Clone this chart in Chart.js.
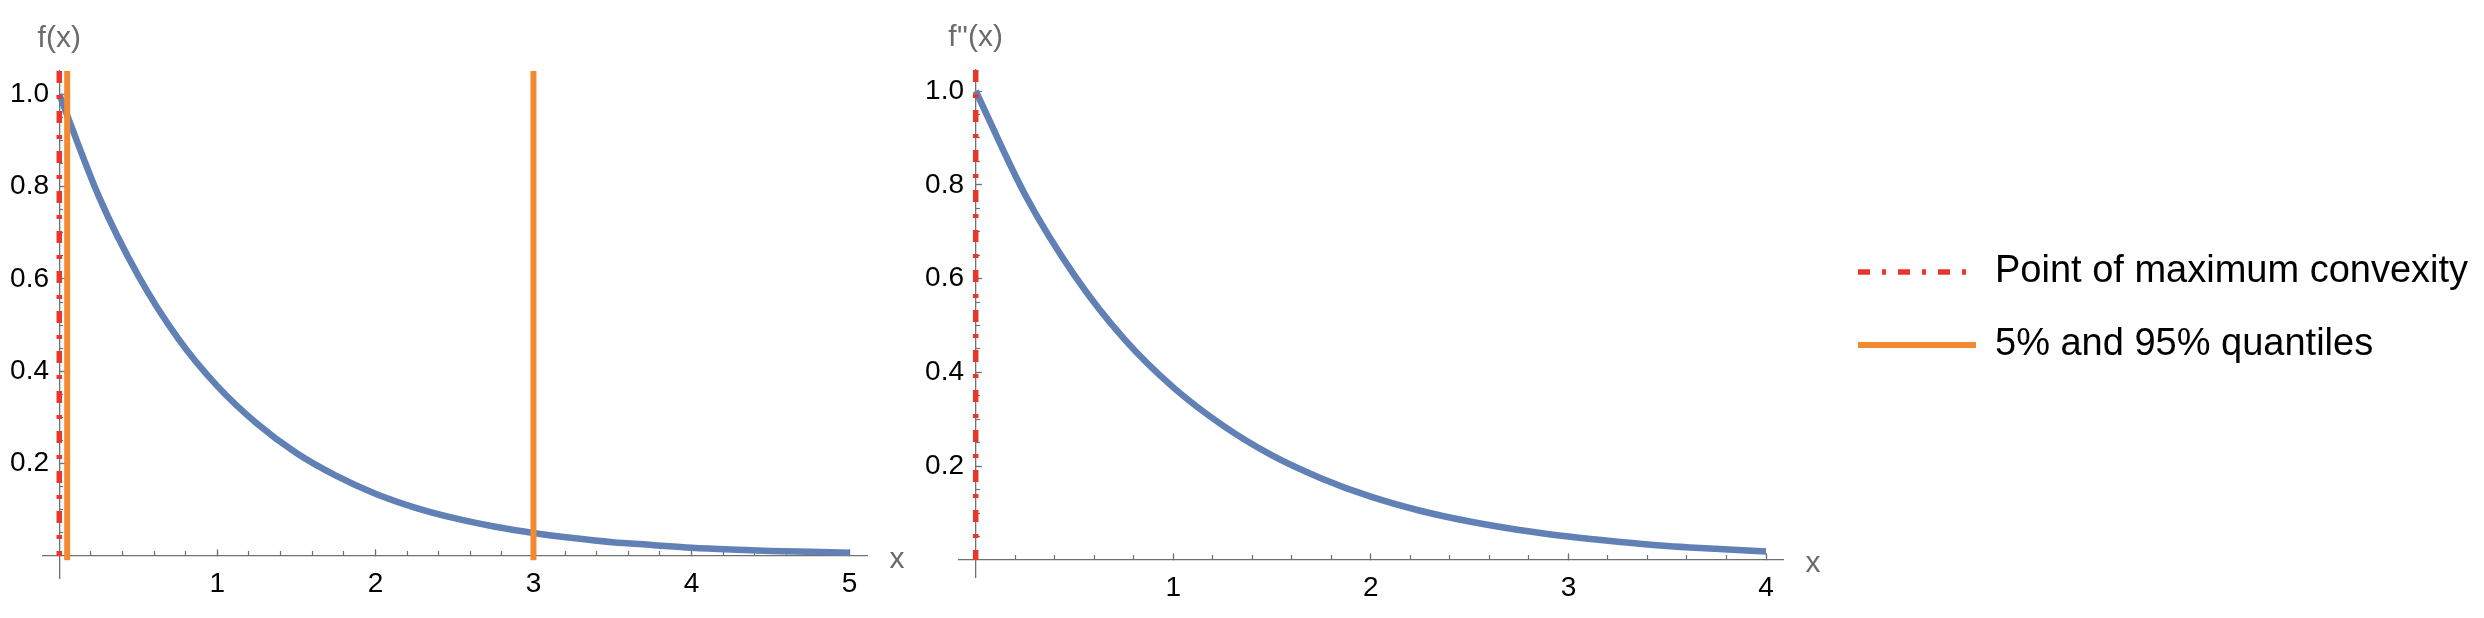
<!DOCTYPE html>
<html lang="en">

<head>
    <meta charset="UTF-8">
    <title>f(x) and f''(x)</title>
    <style>
        body {
            margin: 0;
            background: #fff;
        }

        .page {
            position: relative;
            width: 2484px;
            height: 618px;
            overflow: hidden;
            background: #fff;
        }

        .panel {
            position: absolute;
        }
    </style>
</head>

<body>
    <div class="page">
        <div class="panel" style="left:0px;top:0px;width:910px;height:618px;"><canvas id="chartLeft"></canvas></div>
        <div class="panel" style="left:910px;top:0px;width:920px;height:618px;"><canvas id="chartRight"></canvas></div>
        <div class="panel" style="left:1823px;top:218px;width:661px;height:400px;"><canvas id="chartLegend"></canvas></div>
    </div>
    <script src="https://cdn.jsdelivr.net/npm/chart.js"></script>
    <script>
        // curve values
        var xLeft = [0, 0.25, 0.5, 0.75, 1, 1.25, 1.5, 1.75, 2, 2.25, 2.5, 2.75, 3, 3.25, 3.5, 3.75, 4, 4.25, 4.5, 4.75, 5];
        var fLeft = [1.0, 0.779, 0.607, 0.472, 0.368, 0.287, 0.223, 0.174, 0.135, 0.105, 0.082, 0.064, 0.05, 0.039, 0.030, 0.024, 0.018, 0.014, 0.011, 0.009, 0.007];
        var xRight = [0, 0.25, 0.5, 0.75, 1, 1.25, 1.5, 1.75, 2, 2.25, 2.5, 2.75, 3, 3.25, 3.5, 3.75, 4];
        var fRight = [1.0, 0.779, 0.607, 0.472, 0.368, 0.287, 0.223, 0.174, 0.135, 0.105, 0.082, 0.064, 0.05, 0.039, 0.030, 0.024, 0.018];

        // vertical marker lines
        var convexityX = [0];
        var quantileX = [0.05, 3.0];

        // ticks
        var xTicksLeft = [1, 2, 3, 4, 5];
        var xTicksRight = [1, 2, 3, 4];
        var yTicks = [0.2, 0.4, 0.6, 0.8, 1.0];
        var yTickLabels = ['0.2', '0.4', '0.6', '0.8', '1.0'];

        var legendLabels = ['Point of maximum convexity', '5% and 95% quantiles'];

        var blue = '#6080b6';
        var red = '#e8362c';
        var orange = '#f28a32';
        var axisColor = '#707070';
        var redDash = [12, 12, 4, 12];
        var fontFamily = '"Liberation Sans", Arial, sans-serif';

        function range(from, to, step) {
            var out = [];
            for (var v = from; v <= to + 1e-9; v += step) {
                out.push(Math.round(v * 1000) / 1000);
            }
            return out;
        }

        // 軸名稱 (f(x), x)
        var axisNames = {
            id: 'axisNames',
            afterDraw: function (chart, args, opts) {
                var ctx = chart.ctx;
                var area = chart.chartArea;
                ctx.save();
                ctx.font = '30px ' + fontFamily;
                ctx.fillStyle = '#6b6b6b';
                ctx.textAlign = 'center';
                ctx.textBaseline = 'middle';
                ctx.fillText(opts.yName, chart.scales.x.getPixelForValue(0), area.top - 32);
                ctx.fillText(opts.xName, area.right + 30, chart.scales.y.getPixelForValue(0) + 4);
                ctx.restore();
            }
        };

        function panel(id, p) {
            var datasets = [];
            datasets.push({
                label: 'curve',
                data: p.xs.map(function (x, i) { return { x: x, y: p.ys[i] }; }),
                borderColor: blue,
                borderWidth: 6.5,
                pointRadius: 0,
                cubicInterpolationMode: 'monotone',
                clip: false,
                order: 3
            });
            convexityX.forEach(function (cx) {
                datasets.push({
                    label: legendLabels[0],
                    data: [{ x: cx, y: p.yMax }, { x: cx, y: 0 }],
                    borderColor: red,
                    borderWidth: 5.5,
                    borderDash: redDash,
                    pointRadius: 0,
                    clip: false,
                    order: 2
                });
            });
            if (p.quantiles) {
                quantileX.forEach(function (q) {
                    datasets.push({
                        label: legendLabels[1],
                        data: [{ x: q, y: p.yMax }, { x: q, y: -0.009 }],
                        borderColor: orange,
                        borderWidth: 6,
                        pointRadius: 0,
                        clip: false,
                        order: 1
                    });
                });
            }

            var tickFont = { family: fontFamily, size: 28 };
            var xMinor = range(0.2, p.xMax, 0.2);
            var yMinor = range(0.05, 1.0, 0.05);

            return new Chart(document.getElementById(id), {
                type: 'line',
                data: { datasets: datasets },
                plugins: [axisNames],
                options: {
                    responsive: true,
                    maintainAspectRatio: false,
                    animation: false,
                    devicePixelRatio: 1,
                    layout: { padding: p.padding },
                    plugins: {
                        legend: { display: false },
                        tooltip: { enabled: false },
                        axisNames: { xName: 'x', yName: p.yName }
                    },
                    scales: {
                        x: {
                            type: 'linear',
                            min: p.xMin,
                            max: p.xMax,
                            position: { y: 0 },
                            afterBuildTicks: function (s) { s.ticks = p.xTicks.map(function (v) { return { value: v }; }); },
                            ticks: { font: tickFont, color: '#000', padding: 18, autoSkip: false, maxRotation: 0, callback: function (v) { return String(v); } },
                            grid: { drawOnChartArea: false, drawTicks: true, tickLength: -7, tickColor: axisColor, tickWidth: 1.2 },
                            border: { display: true, color: axisColor, width: 1.3 }
                        },
                        xMinor: {
                            type: 'linear',
                            axis: 'x',
                            min: p.xMin,
                            max: p.xMax,
                            position: { y: 0 },
                            afterBuildTicks: function (s) { s.ticks = xMinor.map(function (v) { return { value: v }; }); },
                            ticks: { display: false },
                            grid: { drawOnChartArea: false, drawTicks: true, tickLength: -5, tickColor: axisColor, tickWidth: 1.2 },
                            border: { display: false }
                        },
                        y: {
                            type: 'linear',
                            min: p.yMin,
                            max: p.yMax,
                            position: { x: 0 },
                            afterBuildTicks: function (s) { s.ticks = yTicks.map(function (v) { return { value: v }; }); },
                            ticks: { display: false },
                            grid: { drawOnChartArea: false, drawTicks: true, tickLength: -7, tickColor: axisColor, tickWidth: 1.2 },
                            border: { display: true, color: axisColor, width: 1.3 }
                        },
                        yMinor: {
                            type: 'linear',
                            axis: 'y',
                            min: p.yMin,
                            max: p.yMax,
                            position: { x: 0 },
                            afterBuildTicks: function (s) { s.ticks = yMinor.map(function (v) { return { value: v }; }); },
                            ticks: { display: false },
                            grid: { drawOnChartArea: false, drawTicks: true, tickLength: -4, tickColor: axisColor, tickWidth: 1.2 },
                            border: { display: false }
                        },
                        // tick labels, right-aligned a little left of the axis
                        yLabels: {
                            type: 'linear',
                            axis: 'y',
                            min: p.yMin,
                            max: p.yMax,
                            position: { x: p.yLabelAt },
                            afterBuildTicks: function (s) { s.ticks = yTicks.map(function (v) { return { value: v }; }); },
                            ticks: { font: tickFont, color: '#000', padding: 0, autoSkip: false, callback: function (v, i) { return yTickLabels[i]; } },
                            grid: { display: false, drawTicks: false },
                            border: { display: false }
                        }
                    }
                }
            });
        }

        // 左圖 f(x)
        panel('chartLeft', {
            xs: xLeft, ys: fLeft, xTicks: xTicksLeft, quantiles: true, yName: 'f(x)',
            xMin: -0.103, xMax: 5.11, yMin: -0.0476, yMax: 1.0505, yLabelAt: -0.065,
            padding: { left: 43, top: 71, right: 43, bottom: 40 }
        });

        // 右圖 f''(x)
        panel('chartRight', {
            xs: xRight, ys: fRight, xTicks: xTicksRight, quantiles: false, yName: "f''(x)",
            xMin: -0.0845, xMax: 4.086, yMin: -0.0362, yMax: 1.0448, yLabelAt: -0.059,
            padding: { left: 49, top: 70, right: 47, bottom: 41 }
        });

        // 圖例
        var legendColors = [red, orange];
        var legendDash = [redDash, []];
        var legendWidth = [5.5, 6];
        new Chart(document.getElementById('chartLegend'), {
            type: 'line',
            data: { datasets: [] },
            options: {
                responsive: true,
                maintainAspectRatio: false,
                animation: false,
                devicePixelRatio: 1,
                layout: { padding: 0 },
                scales: { x: { display: false }, y: { display: false } },
                plugins: {
                    tooltip: { enabled: false },
                    legend: {
                        display: true,
                        position: 'top',
                        align: 'start',
                        labels: {
                            usePointStyle: true,
                            pointStyle: 'line',
                            pointStyleWidth: 118,
                            padding: 35,
                            color: '#000',
                            font: { family: fontFamily, size: 38 },
                            generateLabels: function () {
                                return legendLabels.map(function (t, i) {
                                    return {
                                        text: t,
                                        strokeStyle: legendColors[i],
                                        fillStyle: legendColors[i],
                                        lineWidth: legendWidth[i],
                                        lineDash: legendDash[i],
                                        pointStyle: 'line',
                                        hidden: false,
                                        datasetIndex: i
                                    };
                                });
                            }
                        }
                    }
                }
            }
        });
    </script>
</body>

</html>
